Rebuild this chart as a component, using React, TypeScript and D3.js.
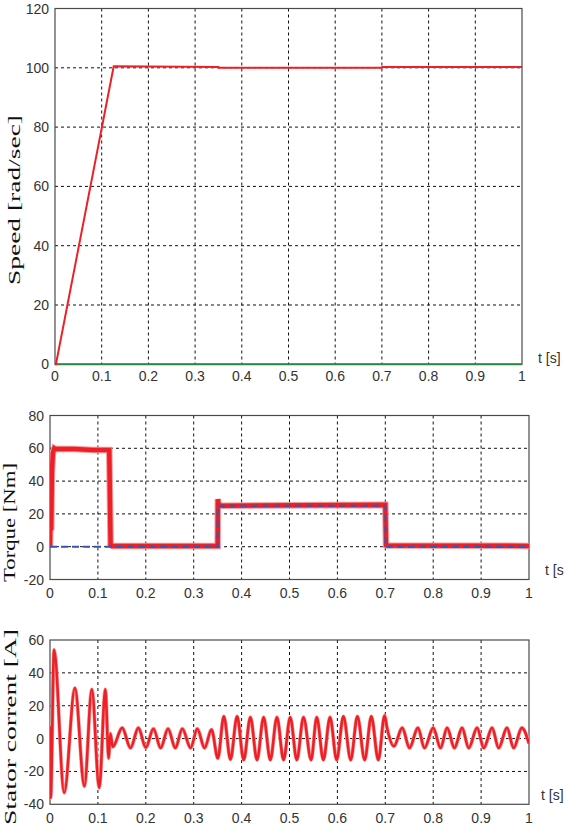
import React from "react";
import * as d3 from "d3";

// ---------- data ----------
const xTicks = [0, 0.1, 0.2, 0.3, 0.4, 0.5, 0.6, 0.7, 0.8, 0.9, 1];
const xTickLabels = ["0", "0.1", "0.2", "0.3", "0.4", "0.5", "0.6", "0.7", "0.8", "0.9", "1"];

const speedTicks = [0, 20, 40, 60, 80, 100, 120];
const torqueTicks = [-20, 0, 20, 40, 60, 80];
const currentTicks = [-40, -20, 0, 20, 40, 60];

// speed [rad/s]
const speedTime = [0, 0.002, 0.1257, 0.35, 0.351, 0.7, 0.701, 1];
const speedValue = [0, 0, 100.5, 100.3, 100.0, 100.0, 100.3, 100.3];
// green reference line at zero
const zeroTime = [0, 1];
const zeroValue = [0, 0];

// electromagnetic torque (red) [Nm]
const torqueTime = [0, 0.0015, 0.0025, 0.004, 0.006, 0.009, 0.012, 0.05, 0.09, 0.1237, 0.1265, 0.13, 0.35, 0.3505, 0.352, 0.356, 0.7, 0.7015, 0.705, 1];
const torqueValue = [0, 30, 10, 45, 57, 60, 59.5, 59.5, 59, 59, 1, 0.5, 0.5, 29, 26, 25, 25.5, 1, 0.8, 0.5];
// load torque reference (blue dashed)
const loadTime = [0, 0.35, 0.35, 0.7, 0.7, 1];
const loadValue = [0, 0, 25, 25, 0, 0];

// stator current extrema [t, A]
const currentPoints: [number, number][] = [
  [0, 7.5], [0.0014, -36], [0.0085, 54], [0.0296, -33], [0.052, 30.7], [0.0718, -29],
  [0.0873, 30], [0.1028, -30], [0.1155, 30], [0.1225, -12], [0.126, 3], [0.131, -5],
  [0.1507, 6.5], [0.168, -5.7], [0.1845, 6.5], [0.2, -5.5], [0.216, 6], [0.231, -5.7],
  [0.2464, 6], [0.2617, -5.7], [0.2762, 6], [0.2936, -5.7], [0.3074, 6], [0.3227, -5.7],
  [0.3372, 5.5], [0.3504, -12], [0.3629, 13.5], [0.3767, -12.7], [0.3906, 13.5], [0.4044, -13],
  [0.4183, 13], [0.4322, -13], [0.446, 13], [0.4599, -13], [0.4738, 13], [0.4876, -13],
  [0.5015, 13], [0.5153, -13], [0.5292, 13], [0.5451, -13], [0.5569, 13], [0.5707, -13],
  [0.5846, 13], [0.5985, -13], [0.6125, 13.5], [0.6278, -13], [0.6417, 13.5], [0.657, -13],
  [0.6708, 13.5], [0.6854, -13], [0.6985, 14], [0.704, 6], [0.718, -4.6], [0.7353, 6.5],
  [0.7506, -5.7], [0.768, 6.5], [0.7818, -5.7], [0.8, 6.5], [0.8153, -5.7], [0.829, 6.5],
  [0.8443, -5.7], [0.8603, 6.5], [0.8742, -5.7], [0.8917, 6.5], [0.9056, -5.7], [0.9229, 6.5],
  [0.9367, -5.7], [0.954, 6.5], [0.968, -5.7], [0.985, 6.5], [1.0, -3],
];

// ---------- styling ----------
const RED = "#ee1f26";
const BLUE = "#3a56b0";
const GREEN = "#2a8a3e";
const TICK_FONT = "'Liberation Sans', Arial, sans-serif";
const TITLE_FONT = "'Liberation Serif', 'Times New Roman', serif";

type PanelProps = {
  left: number; right: number; top: number; bottom: number;
  yDomain: [number, number]; yTicks: number[];
  xLabelDy: number;
  tLabel: { x: number; y: number; text: string };
  title: { text: string; x: number; yStart: number; length: number };
  children: (x: d3.ScaleLinear<number, number>, y: d3.ScaleLinear<number, number>) => React.ReactNode;
};

function Panel(p: PanelProps) {
  const x = d3.scaleLinear().domain([0, 1]).range([p.left, p.right]);
  const y = d3.scaleLinear().domain(p.yDomain).range([p.bottom, p.top]);
  const id = `clip-${Math.round(p.top)}`;
  return (
    <g>
      <defs>
        <clipPath id={id}>
          <rect x={p.left} y={p.top - 2} width={p.right - p.left} height={p.bottom - p.top + 4} />
        </clipPath>
      </defs>
      {/* grid */}
      {xTicks.slice(1, -1).map((t) => (
        <line key={"gx" + t} x1={x(t)} x2={x(t)} y1={p.top} y2={p.bottom}
          stroke="#111" strokeWidth={1} strokeDasharray="3,3" />
      ))}
      {p.yTicks.slice(1, -1).map((v) => (
        <line key={"gy" + v} x1={p.left} x2={p.right} y1={y(v)} y2={y(v)}
          stroke="#111" strokeWidth={1} strokeDasharray="3,3" />
      ))}
      {/* frame */}
      <rect x={p.left} y={p.top} width={p.right - p.left} height={p.bottom - p.top}
        fill="none" stroke="#4a4a4a" strokeWidth={1.2} />
      {/* data */}
      <g clipPath={`url(#${id})`}>{p.children(x, y)}</g>
      {/* y tick labels */}
      {p.yTicks.map((v) => (
        <text key={"ty" + v} x={p.left - 6} y={y(v) + 5} textAnchor="end"
          fontFamily={TICK_FONT} fontSize={14} fill="#333">{v}</text>
      ))}
      {/* x tick labels */}
      {xTicks.map((t, i) => (
        <text key={"tx" + t} x={x(t)} y={p.bottom + p.xLabelDy} textAnchor="middle"
          fontFamily={TICK_FONT} fontSize={14} fill="#333">{xTickLabels[i]}</text>
      ))}
      <text x={p.tLabel.x} y={p.tLabel.y} fontFamily={TICK_FONT} fontSize={14} fill="#333">{p.tLabel.text}</text>
      <text transform={`translate(${p.title.x},${p.title.yStart}) rotate(-90)`}
        fontFamily={TITLE_FONT} fontSize={17} fill="#111"
        textLength={p.title.length} lengthAdjust="spacingAndGlyphs">{p.title.text}</text>
    </g>
  );
}

function pairs(ts: number[], vs: number[]): [number, number][] {
  return ts.map((t, i) => [t, vs[i]]);
}

export default function App() {
  return (
    <svg width={565} height={826} style={{ position: "absolute", left: 0, top: 0, background: "#fff" }}>
      <rect width={565} height={826} fill="#fff" />
      {/* Speed */}
      <Panel left={55} right={522} top={8.5} bottom={364.3} yDomain={[0, 120]} yTicks={speedTicks}
        xLabelDy={17} tLabel={{ x: 538, y: 363, text: "t [s]" }}
        title={{ text: "Speed [rad/sec]", x: 20, yStart: 285, length: 170 }}>
        {(x, y) => {
          const line = d3.line<[number, number]>().x((d) => x(d[0])).y((d) => y(d[1]));
          return (
            <>
              <path d={line(pairs(zeroTime, zeroValue)) || ""} fill="none" stroke={GREEN} strokeWidth={2} />
              <path d={line(pairs(speedTime, speedValue)) || ""} fill="none" stroke={RED} strokeWidth={2} />
            </>
          );
        }}
      </Panel>
      {/* Torque */}
      <Panel left={50} right={529} top={415.5} bottom={579.5} yDomain={[-20, 80]} yTicks={torqueTicks}
        xLabelDy={18.5} tLabel={{ x: 545, y: 575, text: "t [s" }}
        title={{ text: "Torque [Nm]", x: 15, yStart: 582, length: 119 }}>
        {(x, y) => {
          const line = d3.line<[number, number]>().x((d) => x(d[0])).y((d) => y(d[1]));
          return (
            <>
              <path d={line(pairs(torqueTime, torqueValue)) || ""} fill="none" stroke="#f59a9a" strokeWidth={6.5} />
              <path d={line(pairs(torqueTime, torqueValue)) || ""} fill="none" stroke={RED} strokeWidth={4.5} />
              <path d={line(pairs(loadTime, loadValue)) || ""} fill="none" stroke={BLUE} strokeWidth={2}
                strokeDasharray="7,4" />
            </>
          );
        }}
      </Panel>
      {/* Stator current */}
      <Panel left={50} right={529} top={640} bottom={804.3} yDomain={[-40, 60]} yTicks={currentTicks}
        xLabelDy={18.5} tLabel={{ x: 541, y: 800, text: "t [s]" }}
        title={{ text: "Stator corrent [A]", x: 16, yStart: 825, length: 196 }}>
        {(x, y) => {
          const line = d3.line<[number, number]>().x((d) => x(d[0])).y((d) => y(d[1])).curve(d3.curveMonotoneX);
          return (
            <>
              <path d={line(currentPoints) || ""} fill="none" stroke="#f7a0a0" strokeWidth={3.8} />
              <path d={line(currentPoints) || ""} fill="none" stroke={RED} strokeWidth={2.6} />
            </>
          );
        }}
      </Panel>
    </svg>
  );
}
